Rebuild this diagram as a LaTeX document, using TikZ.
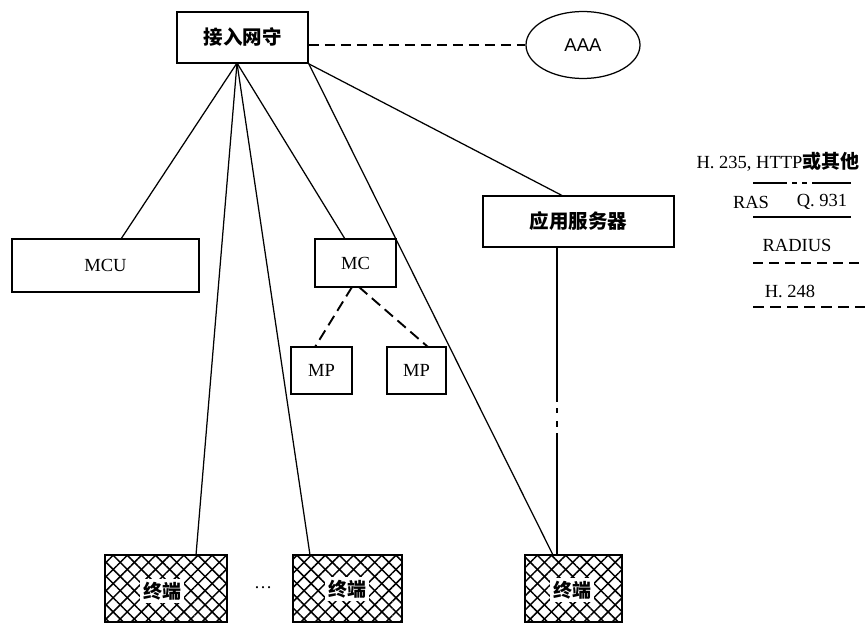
\documentclass[tikz,border=0pt]{standalone}
\usepackage{fontspec}
\setmainfont{Liberation Serif}
\newfontfamily\cjk{Noto Sans CJK SC}
\newfontfamily\sansf{Liberation Sans}
\usetikzlibrary{patterns.meta,calc,shapes.geometric}
\begin{document}
\begin{tikzpicture}[x=1pt,y=-1pt,
  box/.style={draw,line width=1.7pt,inner sep=0pt,font=\fontsize{18.5}{21}\selectfont},
  cbox/.style={box,font=\cjk\bfseries\fontsize{19.5}{22}\selectfont},
  term/.style={draw,line width=1.8pt,inner sep=0pt,
    preaction={pattern={Lines[angle=45,distance=10pt,line width=1.5pt]}},
    pattern={Lines[angle=-45,distance=10pt,line width=1.5pt]}},
  tlabel/.style={fill=white,inner sep=3pt,font=\cjk\bfseries\fontsize{19}{21}\selectfont},
  link/.style={line width=1.25pt},
  radius line/.style={line width=1.25pt,dash pattern=on 10pt off 6pt},
  h248 line/.style={line width=1.9pt,dash pattern=on 11pt off 6pt},
  lgtext/.style={font=\fontsize{18.5}{21}\selectfont,inner sep=0pt}
]
\useasboundingbox (0,0) rectangle (865,626);

% main entities
\node[cbox,minimum width=131pt,minimum height=51pt] (gk) at (242.5,37.5) {接入网守};
\node[draw,ellipse,line width=1.25pt,minimum width=114pt,minimum height=67pt,inner sep=0pt,
      font=\sansf\fontsize{18.5}{20}\selectfont] (aaa) at (583,45) {AAA};
\node[box,minimum width=187pt,minimum height=53pt] (mcu) at (105.5,265.5) {MCU};
\node[box,minimum width=81pt,minimum height=48pt] (mc) at (355.5,263) {MC};
\node[box,minimum width=61pt,minimum height=47pt] (mp1) at (321.5,370.5) {MP};
\node[box,minimum width=59pt,minimum height=47pt] (mp2) at (416.5,370.5) {MP};
\node[cbox,minimum width=191pt,minimum height=51pt] (app) at (578.5,221.5) {应用服务器};

% terminals
\node[term,minimum width=122pt,minimum height=67pt] (t1) at (166,588.5) {};
\node[term,minimum width=109pt,minimum height=67pt] (t2) at (347.5,588.5) {};
\node[term,minimum width=97pt,minimum height=67pt] (t3) at (573.5,588.5) {};
\node[tlabel] (t1l) at (162,591) {终端};
\node[tlabel] (t2l) at (347,589) {终端};
\node[tlabel] (t3l) at (572,590) {终端};
\node[font=\fontsize{18}{20}\selectfont,inner sep=0pt] (dots) at (263,588) {\dots};

% attachment points
\coordinate (fan) at (237,63);
\coordinate (mcuT) at (121,239);
\coordinate (mcT) at (345,239);
\coordinate (t1T) at (196,555);
\coordinate (t2T) at (310,555);
\coordinate (appT) at (563,196);
\coordinate (t3T) at (553,555);
\coordinate (appB) at (557,247);
\coordinate (t3V) at (557,555);
\coordinate (mcB1) at (352,287);
\coordinate (mcB2) at (359,287);
\coordinate (mp1T) at (315,347);
\coordinate (mp2T) at (428,347);

% connectors
\draw[radius line] (gk.east |- aaa.west) -- (aaa.west);
\draw[link] (fan) -- (mcuT);
\draw[link] (fan) -- (t1T);
\draw[link] (fan) -- (t2T);
\draw[link] (fan) -- (mcT);
\draw[link] (gk.south east) -- (appT);
\draw[link] (gk.south east) -- (t3T);
\draw[link,dash pattern=on 155pt off 6pt on 5pt off 8pt on 6pt off 6pt on 130pt] (appB) -- (t3V);
\draw[h248 line] (mcB1) -- (mp1T);
\draw[h248 line] (mcB2) -- (mp2T);

% legend
\node[lgtext] (lg1) at (778,162) {H. 235, HTTP{\cjk\bfseries\fontsize{19}{21}\selectfont 或其他}};
\coordinate (l1a) at (753,183);
\coordinate (l1b) at (851,183);
\draw[link,dash pattern=on 34pt off 5pt on 5pt off 5pt on 5pt off 5pt on 40pt] (l1a) -- (l1b);
\node[lgtext] (lgras) at (751,202) {RAS};
\node[lgtext] (lgq) at (822,202) {Q.\ 931};
\coordinate (l2a) at (753,217);
\coordinate (l2b) at (851,217);
\draw[link] (l2a) -- (l2b);
\node[lgtext] (lgrad) at (797,245) {RADIUS};
\coordinate (l3a) at (753,263);
\coordinate (l3b) at (865,263);
\draw[radius line] (l3a) -- (l3b);
\node[lgtext] (lgh) at (790,291) {H. 248};
\coordinate (l4a) at (753,307);
\coordinate (l4b) at (865,307);
\draw[h248 line] (l4a) -- (l4b);
\end{tikzpicture}
\end{document}
